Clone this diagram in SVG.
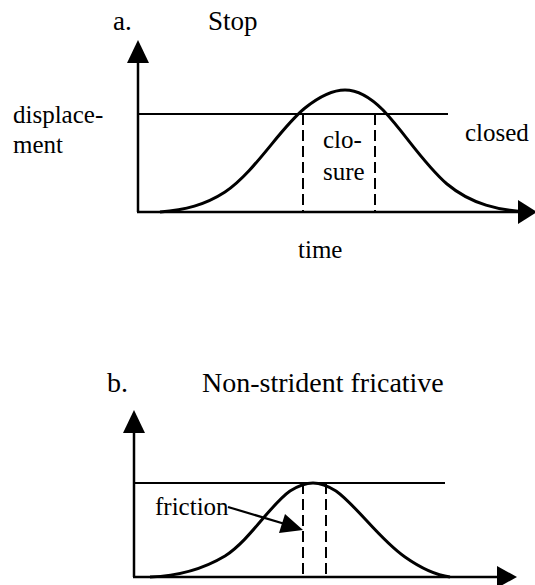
<svg xmlns="http://www.w3.org/2000/svg" width="535" height="585" viewBox="0 0 535 585">
<style>
text{font-family:"Liberation Serif","Times New Roman",serif;fill:#000}
.t{font-size:27px}
.l{font-size:25px}
.ax{stroke:#000;stroke-width:2.5;fill:none}
.ref{stroke:#000;stroke-width:2.2;fill:none}
.dash{stroke:#000;stroke-width:2;fill:none;stroke-dasharray:11 5}
.curve{stroke:#000;stroke-width:3;fill:none;stroke-linejoin:round}
.head{fill:#000}
</style>
<rect width="535" height="585" fill="#fff"/>
<g id="panel-a">
  <text class="t" x="113" y="30">a.</text>
  <text class="t" x="208" y="30">Stop</text>
  <text class="l" x="13" y="123">displace-</text>
  <text class="l" x="13" y="153">ment</text>
  <text class="l" x="465" y="141">closed</text>
  <text class="l" x="323" y="148">clo-</text>
  <text class="l" x="323" y="180">sure</text>
  <text class="l" x="298" y="258">time</text>
  <g id="axes-a">
    <line class="ax" x1="138" y1="212" x2="138" y2="58"/>
    <polygon class="head" points="138,40 127,63 149,63"/>
    <line class="ax" x1="137" y1="212" x2="522" y2="212"/>
    <polygon class="head" points="537,212 518,200 518,224"/>
  </g>
  <line class="ref" x1="138" y1="114" x2="448" y2="114"/>
  <line class="dash" x1="303" y1="114" x2="303" y2="212"/>
  <line class="dash" x1="375" y1="114" x2="375" y2="212"/>
  <path class="curve" d="M160,212 C185,210 205,205 225,192 C255,172 280,128 305,108 C320,96 333,90 345,90 C358,90 370,97 383,110 C405,133 422,162 447,184 C472,205 500,210 525,212"/>
</g>
<g id="panel-b">
  <text x="107" y="392" style="font-size:28px">b.</text>
  <text x="202" y="392" style="font-size:28px">Non-strident fricative</text>
  <text class="l" x="155" y="515">friction</text>
  <g id="axes-b">
    <line class="ax" x1="134" y1="577" x2="134" y2="428"/>
    <polygon class="head" points="134,410 123,433 145,433"/>
    <line class="ax" x1="133" y1="577" x2="500" y2="577"/>
    <polygon class="head" points="517,577 497,566 497,588"/>
  </g>
  <line class="ref" x1="134" y1="483" x2="445" y2="483"/>
  <line class="dash" x1="303" y1="483" x2="303" y2="577"/>
  <line class="dash" x1="326" y1="483" x2="326" y2="577"/>
  <path class="curve" d="M150,577 C180,576 205,568 225,556 C250,540 270,505 290,491 C298,486 305,483 313,483 C321,483 328,486 336,491 C356,505 380,540 405,557 C422,569 435,575 450,577"/>
  <g id="connectors">
    <line class="ref" x1="228" y1="507" x2="285" y2="524"/>
    <polygon class="head" points="303,530 279,533 285,514"/>
  </g>
</g>
</svg>
